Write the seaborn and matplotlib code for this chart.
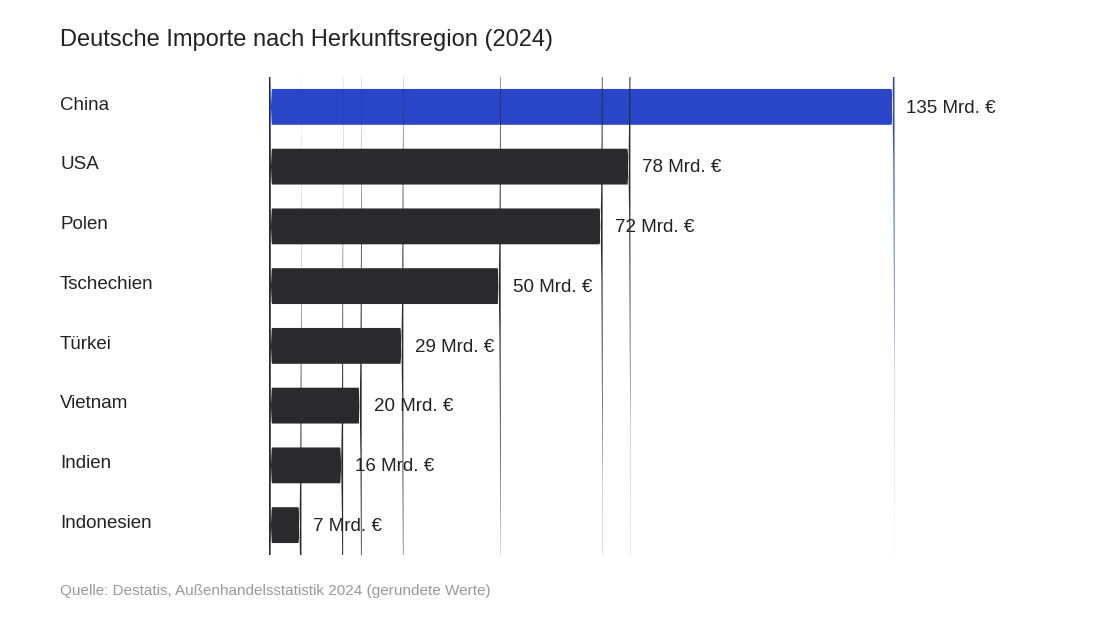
import matplotlib
matplotlib.use("Agg")
import matplotlib.pyplot as plt
import matplotlib.transforms as mtrans
from matplotlib.patches import FancyBboxPatch
import seaborn as sns
import pandas as pd

categories = ["China", "USA", "Polen", "Tschechien", "Türkei", "Vietnam", "Indien", "Indonesien"]
values = [135, 78, 72, 50, 29, 20, 16, 7]
title = "Deutsche Importe nach Herkunftsregion (2024)"
source = "Quelle: Destatis, Außenhandelsstatistik 2024 (gerundete Werte)"

sns.set_theme(style="white")
plt.rcParams['font.family'] = ['Liberation Sans', 'DejaVu Sans']

df = pd.DataFrame({"cat": categories, "val": values})
colors = ["#2946C8"] + ["#2a2a2d"] * (len(categories) - 1)

fig = plt.figure(figsize=(11.2, 6.27), dpi=100)
ax = fig.add_axes([269/1120, 1-555/627, 834/1120, 478/627])
sns.barplot(data=df, x="val", y="cat", hue="cat", palette=colors, legend=False,
            width=0.6, ax=ax, saturation=1)
ax.set_xlim(0, 180)
ax.set_ylim(len(categories) - 0.5, -0.5)

# replace with rounded bars
aspect = (478/8) / (834/180)  # px per y unit / px per x unit
for p in list(ax.patches):
    x, y, w, h = p.get_x(), p.get_y(), p.get_width(), p.get_height()
    fc = p.get_facecolor()
    p.remove()
    r = 3 / (834/180)
    ax.add_patch(FancyBboxPatch((x, y), w, h, boxstyle=f"round,pad=0,rounding_size={r}",
                                mutation_aspect=aspect, facecolor=fc, edgecolor="none"))

for s in ax.spines.values():
    s.set_visible(False)
ax.set_xticks([]); ax.set_yticks([])
ax.set_xlabel(""); ax.set_ylabel("")

tr = mtrans.blended_transform_factory(fig.transFigure, ax.transData)
for i, (c, v) in enumerate(zip(categories, values)):
    ax.text(60/1120, i - 0.03, c, transform=tr, ha="left", va="center", fontsize=13.5, color="#222222")
    ax.text(v + 12/(834/180), i + 0.02, f"{v} Mrd. €", ha="left", va="center", fontsize=13.5, color="#222222")

fig.text(60/1120, 1-40/627, title, ha="left", va="center", fontsize=17, color="#222222")
fig.text(60/1120, 1-591/627, source, ha="left", va="center", fontsize=11, color="#999999")

fig.savefig("out.png", dpi=100, facecolor="white")
